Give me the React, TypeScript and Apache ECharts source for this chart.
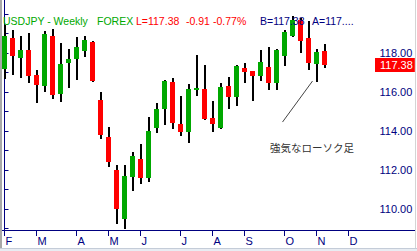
import React, { useEffect, useRef } from "react";
import * as echarts from "echarts";

// Weekly USDJPY candles (index = week number from start of February)
const weekIndex = [
  0, 1, 2, 3, 4, 5, 6, 7, 8, 9, 10, 11, 12, 13, 14, 15, 16, 17, 18, 19, 20,
  21, 22, 23, 24, 25, 26, 27, 28, 29, 30, 31, 32, 33, 34, 35, 36, 37, 38, 39, 40,
];
const opens = [
  117.18, 118.77, 117.74, 118.15, 116.87, 116.31, 118.87, 115.9, 117.49, 117.69,
  118.1, 118.56, 115.59, 113.69, 112.0, 109.49, 111.64, 112.56, 111.59, 114.15,
  115.13, 116.51, 114.36, 113.95, 116.1, 116.15, 114.67, 114.15, 116.31, 115.74,
  117.23, 117.08, 116.82, 117.28, 116.46, 117.85, 118.87, 119.69, 118.77, 117.44,
  118.1,
];
const closes = [
  118.87, 117.85, 118.15, 116.82, 116.36, 118.97, 115.85, 117.44, 117.69, 118.31,
  118.67, 116.56, 113.79, 112.41, 110.0, 111.69, 112.72, 111.59, 114.0, 115.13,
  116.56, 114.41, 113.95, 116.15, 116.21, 114.62, 114.36, 116.26, 115.74, 117.33,
  117.03, 116.82, 117.54, 116.46, 118.15, 119.08, 119.69, 118.62, 117.49, 118.05,
  117.38,
];
const lows = [
  116.67, 116.87, 116.72, 116.46, 115.44, 116.0, 115.64, 115.49, 116.21, 116.62,
  117.79, 116.51, 113.59, 112.15, 109.23, 108.95, 110.92, 111.28, 111.38, 113.9,
  114.31, 114.1, 113.74, 113.38, 115.79, 114.56, 113.95, 114.1, 115.13, 115.28,
  116.46, 115.54, 116.56, 116.1, 116.1, 117.33, 118.82, 118.0, 117.13, 116.51,
  117.23,
];
const highs = [
  119.44, 119.18, 118.87, 119.03, 117.13, 119.13, 119.23, 118.51, 118.21, 118.82,
  118.87, 118.62, 116.0, 114.21, 112.26, 112.26, 112.92, 113.33, 114.72, 115.44,
  116.62, 116.72, 115.79, 116.41, 117.9, 117.38, 115.54, 116.46, 116.77, 117.38,
  117.49, 117.1, 118.15, 118.31, 118.21, 119.18, 119.9, 119.79, 119.64, 118.21,
  118.46,
];

const monthTickIndex = [0, 4, 9, 13, 17, 22, 26, 30, 35, 39, 43];
const monthLabels = ["F", "M", "A", "M", "J", "J", "A", "S", "O", "N", "D"];
const priceLabelValues = [110, 112, 114, 116, 118];
const priceTickValues = [109, 110, 111, 112, 113, 114, 115, 116, 117, 118, 119, 120];

const X_MIN = -0.5;
const X_MAX = 46.25;
const Y_MIN = 108.92;
const Y_MAX = 120.72;

const headerChange = "-0.91";
const headerChangePct = "-0.77%";
const annotationText = "強気なローソク足";

const GREEN = "#00a800";
const RED = "#ff0000";
const NAVY = "#000080";
const FONT = "'Liberation Sans', Arial, Helvetica, sans-serif";

export default function App() {
  const ref = useRef<HTMLDivElement>(null);

  useEffect(() => {
    if (!ref.current) return;
    const chart = echarts.init(ref.current, null, { renderer: "svg" });
    const data = weekIndex.map((i, k) => [i, opens[k], closes[k], lows[k], highs[k]]);

    chart.setOption({
      animation: false,
      backgroundColor: "#ffffff",
      grid: {
        left: 0.5,
        right: 42.5,
        top: 0,
        bottom: 21,
        containLabel: false,
        outerBoundsMode: "none",
      },
      xAxis: {
        type: "value",
        min: X_MIN,
        max: X_MAX,
        position: "bottom",
        splitLine: { show: false },
        axisLine: { show: true, lineStyle: { color: NAVY, width: 1 } },
        axisTick: {
          show: true,
          length: 6,
          customValues: monthTickIndex,
          lineStyle: { color: NAVY, width: 1 },
        },
        axisLabel: {
          show: true,
          customValues: monthTickIndex,
          formatter: (v: number) => {
            const k = monthTickIndex.indexOf(Math.round(v));
            return k >= 0 ? monthLabels[k] : "";
          },
          align: "left",
          padding: [0, 0, 0, 1],
          margin: 5,
          color: NAVY,
          fontSize: 11,
          fontFamily: FONT,
        },
      },
      yAxis: {
        type: "value",
        position: "right",
        min: Y_MIN,
        max: Y_MAX,
        splitLine: { show: false },
        axisLine: { show: true, lineStyle: { color: NAVY, width: 1 } },
        axisTick: {
          show: true,
          length: 4,
          customValues: priceTickValues,
          lineStyle: { color: NAVY, width: 1 },
        },
        axisLabel: {
          show: true,
          customValues: priceLabelValues,
          formatter: (v: number) => v.toFixed(2),
          margin: 5,
          color: NAVY,
          fontSize: 11,
          fontFamily: FONT,
        },
      },
      series: [
        {
          type: "custom",
          data,
          encode: { x: 0, y: [1, 2, 3, 4] },
          renderItem: (_params: any, api: any) => {
            const i = api.value(0);
            const o = api.value(1);
            const c = api.value(2);
            const l = api.value(3);
            const h = api.value(4);
            const ph = api.coord([i, h]);
            const pl = api.coord([i, l]);
            const po = api.coord([i, o]);
            const pc = api.coord([i, c]);
            const x = ph[0];
            const top = Math.round(Math.min(po[1], pc[1]));
            const bot = Math.round(Math.max(po[1], pc[1]));
            return {
              type: "group",
              children: [
                {
                  type: "line",
                  shape: { x1: x + 0.5, y1: Math.round(ph[1]), x2: x + 0.5, y2: Math.round(pl[1]) },
                  style: { stroke: "#000000", lineWidth: 2 },
                },
                {
                  type: "rect",
                  shape: { x: x - 2.5, y: top, width: 5, height: Math.max(bot - top, 2) },
                  style: { fill: c >= o ? GREEN : RED },
                },
              ],
            };
          },
        },
      ],
    });

    const lastK = closes.length - 1;
    const lastClose = closes[lastK];
    const pLast = chart.convertToPixel({ xAxisIndex: 0, yAxisIndex: 0 }, [weekIndex[lastK], lastClose]) as number[];
    const pAnn = chart.convertToPixel({ xAxisIndex: 0, yAxisIndex: 0 }, [weekIndex[lastK - 1], lows[lastK - 1]]) as number[];
    const yp = Math.round(pLast[1]);

    const headerY = 15;
    const hdr = (text: string, x: number, fill: string, id: string) => ({
      type: "text",
      id,
      x,
      y: headerY,
      z: 20,
      style: {
        text,
        fill,
        fontSize: 10.5,
        fontFamily: FONT,
        textBaseline: "alphabetic",
        textAlign: "left",
      },
    });

    chart.setOption({
      graphic: [
        // frame
        { type: "rect", id: "lb", shape: { x: 0, y: 0, width: 2, height: 248 }, style: { fill: "#a8a8a8" }, z: 30 },
        { type: "line", id: "rb", shape: { x1: 415.5, y1: 0, x2: 415.5, y2: 248 }, style: { stroke: "#d4d4d4", lineWidth: 1 }, z: 30 },
        { type: "rect", id: "bb", shape: { x: 0, y: 248, width: 417, height: 3 }, style: { fill: "#e8ecf2" }, z: 30 },
        { type: "line", id: "bbl", shape: { x1: 0, y1: 248.5, x2: 417, y2: 248.5 }, style: { stroke: "#c4ccd8", lineWidth: 1 }, z: 30 },
        // x-axis extension under price scale
        { type: "line", id: "xext", shape: { x1: 374, y1: 230.5, x2: 415, y2: 230.5 }, style: { stroke: NAVY, lineWidth: 1 }, z: 10 },
        // header
        hdr("USDJPY - Weekly", 3, GREEN, "h1"),
        hdr("FOREX", 97, GREEN, "h2"),
        hdr(`L=${lastClose.toFixed(2)}`, 136, RED, "h3"),
        hdr(headerChange, 186, RED, "h4"),
        hdr(headerChangePct, 213, RED, "h5"),
        hdr(`B=${lastClose.toFixed(2)}`, 260, NAVY, "h6"),
        hdr("A=117....", 312, NAVY, "h7"),
        // last price tag
        {
          type: "text",
          id: "tagt",
          x: 375,
          y: yp - 7,
          z: 26,
          style: {
            text: lastClose.toFixed(2),
            fill: "#ffffff",
            fontSize: 11,
            fontFamily: FONT,
            textBaseline: "top",
            textAlign: "left",
            backgroundColor: RED,
            padding: [1, 2, 1, 5],
            lineHeight: 12,
          },
        },
        // annotation
        {
          type: "line",
          id: "annl",
          shape: { x1: pAnn[0] - 34, y1: pAnn[1] + 40, x2: pAnn[0] - 4, y2: pAnn[1] - 1 },
          style: { stroke: "#444444", lineWidth: 1 },
          z: 20,
        },
        {
          type: "text",
          id: "annt",
          x: 270,
          y: 142,
          z: 20,
          style: {
            text: annotationText,
            fill: "#333333",
            fontSize: 10.5,
            fontFamily: "'Noto Sans CJK JP', sans-serif",
            textBaseline: "middle",
            textAlign: "left",
          },
        },
      ],
    });

    return () => chart.dispose();
  }, []);

  return (
    <div
      ref={ref}
      style={{ position: "absolute", left: 0, top: 0, width: 417, height: 251, background: "#fff" }}
    />
  );
}
